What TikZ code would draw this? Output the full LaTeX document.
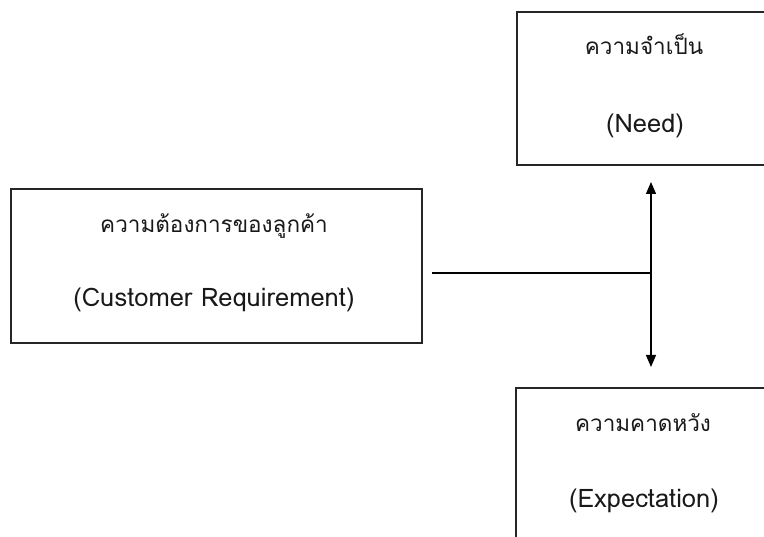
\documentclass[tikz,border=0pt]{standalone}
\usepackage{fontspec}
\newfontfamily\thaifont[Script=Thai]{Loma}
\usetikzlibrary{arrows.meta}
\begin{document}
\begin{tikzpicture}[x=1pt,y=1pt,
  box/.style={draw=black!85, line width=1.3pt, inner sep=0pt, outer sep=0pt},
  thlbl/.style={font=\thaifont\fontsize{22.5}{22.5}\selectfont, anchor=base, inner sep=0pt, text=black!90},
  enlbl/.style={font=\thaifont\fontsize{25.5}{25.5}\selectfont, anchor=base, inner sep=0pt, text=black!90},
  conn/.style={line width=1.3pt, draw=black},
  tip/.style={-{Triangle[width=10pt,length=12pt]}}]
\useasboundingbox (0,0) rectangle (764,537);
\clip (0,0) rectangle (764,537);
\fill[white] (0,0) rectangle (764,537);
% boxes
\node[box, minimum width=411pt, minimum height=154pt, anchor=north west] (cr) at (11,348) {};
\node[box, minimum width=280pt, minimum height=153pt, anchor=north west] (need) at (517,525) {};
\node[box, minimum width=280pt, minimum height=200pt, anchor=north west] (exp) at (516,149) {};
% texts
\node[thlbl] (crth) at (214,304) {ความต้องการของลูกค้า};
\node[enlbl] (cren) at (214,230) {(Customer Requirement)};
\node[thlbl] (needth) at (644,482) {ความจำเป็น};
\node[enlbl] (needen) at (645,404) {(Need)};
\node[thlbl] (expth) at (643,105) {ความคาดหวัง};
\node[enlbl] (expen) at (644,29) {(Expectation)};
% connectors
\coordinate (start) at (432,264);
\coordinate (j) at (651,264);
\coordinate (up) at (651,355);
\coordinate (down) at (651,170);
\draw[conn] (start) -- (j);
\draw[conn, tip] (j) -- (up);
\draw[conn, tip] (j) -- (down);
\end{tikzpicture}
\end{document}
